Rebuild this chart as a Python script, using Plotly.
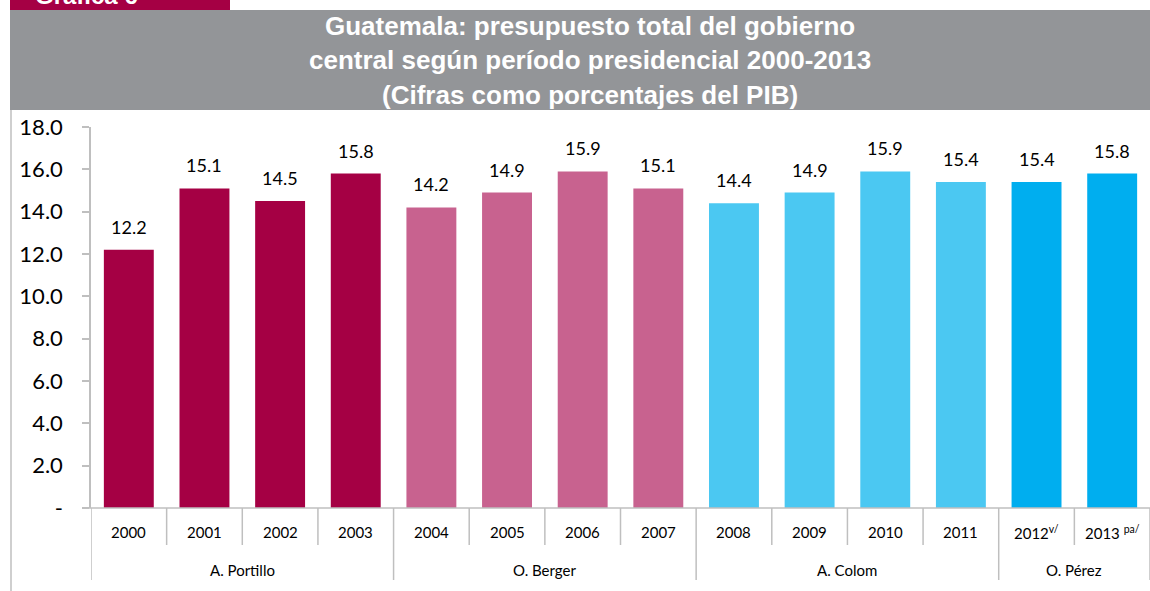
import plotly.graph_objects as go

years = ["2000", "2001", "2002", "2003", "2004", "2005", "2006", "2007",
         "2008", "2009", "2010", "2011", "2012", "2013"]
year_labels = ["2000", "2001", "2002", "2003", "2004", "2005", "2006", "2007",
               "2008", "2009", "2010", "2011", "2012<sup>v/</sup>", "2013 <sup>pa/</sup>"]
values = [12.2, 15.1, 14.5, 15.8, 14.2, 14.9, 15.9, 15.1, 14.4, 14.9, 15.9, 15.4, 15.4, 15.8]
groups = ["A. Portillo", "O. Berger", "A. Colom", "O. Pérez"]
group_spans = [(0, 3), (4, 7), (8, 11), (12, 13)]
group_colors = ["#A50044", "#C8628F", "#4BC8F2", "#00AEEF"]
ytick_vals = [0, 2, 4, 6, 8, 10, 12, 14, 16, 18]
ytick_text = ["-", "2.0", "4.0", "6.0", "8.0", "10.0", "12.0", "14.0", "16.0", "18.0"]
title_lines = ["Guatemala: presupuesto total del gobierno",
               "central según período presidencial 2000-2013",
               "(Cifras como porcentajes del PIB)"]

W, H = 1150, 591
X0, X1, YT, YB = 91, 1150, 127, 508


def px(x):
    return (x - X0) / (X1 - X0)


def py(y):
    return (YB - y) / (YB - YT)


bar_colors = []
for (a, b), c in zip(group_spans, group_colors):
    bar_colors += [c] * (b - a + 1)

xs = list(range(len(years)))
fig = go.Figure(go.Bar(x=xs, y=values, marker=dict(color=bar_colors, line=dict(width=0)),
                       hoverinfo="skip"))

GRAY = "#BFBFBF"
shapes = []
annotations = []

# header band and red tab
shapes.append(dict(type="rect", xref="paper", yref="paper", x0=px(10), x1=px(1150),
                   y0=py(110), y1=py(10), fillcolor="#939598", line=dict(width=0), layer="below"))
shapes.append(dict(type="rect", xref="paper", yref="paper", x0=px(10), x1=px(230),
                   y0=py(10), y1=py(-20), fillcolor="#A50044", line=dict(width=0), layer="below"))
annotations.append(dict(text="<b>Gráfica 6</b>", xref="paper", yref="paper", x=px(33), y=py(11),
                        xanchor="left", yanchor="bottom", showarrow=False,
                        font=dict(family="Liberation Sans", size=24, color="white")))
# left frame
shapes.append(dict(type="line", xref="paper", yref="paper", x0=px(11), x1=px(11),
                   y0=py(110), y1=py(591), line=dict(color=GRAY, width=1.5)))

for i, t in enumerate(title_lines):
    annotations.append(dict(text="<b>" + t + "</b>", xref="paper", yref="paper",
                            x=px(590), y=py(26 + 34.5 * i), xanchor="center", yanchor="middle",
                            showarrow=False,
                            font=dict(family="Liberation Sans", size=26, color="white")))

# category axis separators
for k in range(len(years) + 1):
    xb = k - 0.5
    is_group = any(xb == a - 0.5 for a, b in group_spans) or xb == len(years) - 0.5
    yend = py(580) if is_group else py(545)
    shapes.append(dict(type="line", xref="x", yref="paper", x0=xb, x1=xb, y0=0, y1=yend,
                       line=dict(color=GRAY, width=1.5)))
shapes.append(dict(type="line", xref="paper", yref="paper", x0=px(84), x1=1.0, y0=0, y1=0,
                   line=dict(color=GRAY, width=1.5)))

for i, lab in enumerate(year_labels):
    annotations.append(dict(text=lab, xref="x", yref="paper", x=i, y=py(532),
                            xanchor="center", yanchor="middle", showarrow=False,
                            font=dict(family="Lato", size=15, color="black")))
for g, (a, b) in zip(groups, group_spans):
    annotations.append(dict(text=g, xref="x", yref="paper", x=(a + b) / 2, y=py(570),
                            xanchor="center", yanchor="middle", showarrow=False,
                            font=dict(family="Lato", size=15, color="black")))

# value labels
for i, v in enumerate(values):
    annotations.append(dict(text=f"{v:.1f}", x=i, y=v, xref="x", yref="y",
                            xanchor="center", yanchor="bottom", yshift=10, showarrow=False,
                            font=dict(family="Lato", size=18, color="black")))

fig.update_layout(
    width=W, height=H,
    margin=dict(l=X0, r=W - X1, t=YT, b=H - YB, pad=0),
    paper_bgcolor="white", plot_bgcolor="white",
    showlegend=False, bargap=0.34,
    shapes=shapes, annotations=annotations,
    xaxis=dict(range=[-0.5, len(years) - 0.5], showticklabels=False, showgrid=False,
               zeroline=False, showline=False, ticks=""),
    yaxis=dict(range=[0, 18], tickvals=ytick_vals, ticktext=ytick_text, showgrid=False,
               zeroline=False, showline=True, linecolor=GRAY, linewidth=1.5,
               ticks="outside", ticklen=7, tickcolor=GRAY, tickwidth=1.5,
               ticklabelstandoff=15,
               tickfont=dict(family="Lato", size=22, color="black")),
)

fig.write_html("out.html", config={"displayModeBar": False},
               post_script="document.body.style.margin='0';document.body.style.overflow='hidden';")
